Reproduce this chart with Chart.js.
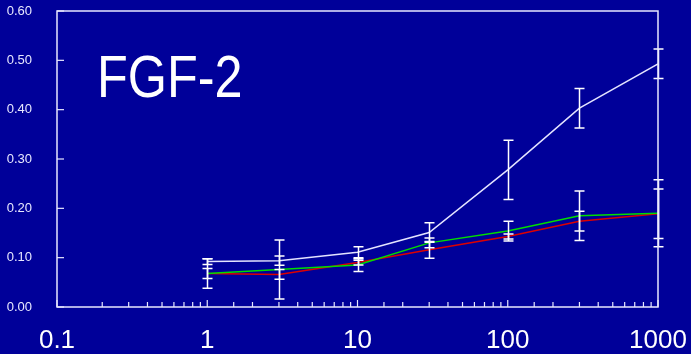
<!DOCTYPE html>
<html>
<head>
<meta charset="utf-8">
<script src="https://cdn.jsdelivr.net/npm/chart.js@4.4.1/dist/chart.umd.min.js"></script>
<style>
html,body{margin:0;padding:0;background:#000099;}
#wrap{width:691px;height:354px;}
</style>
</head>
<body>
<div id="wrap"><canvas id="c" width="691" height="354"></canvas></div>
<script>
const doses = [1, 3, 10, 30, 100, 300, 1000];
const whiteVals = [0.092, 0.094, 0.111, 0.151, 0.278, 0.403, 0.493];
const whiteErr  = [0.006, 0.0095, 0.011, 0.02, 0.06, 0.04, 0.03];
const greenVals = [0.068, 0.076, 0.085, 0.130, 0.154, 0.185, 0.190];
const greenErr  = [0.03, 0.06, 0.013, 0.01, 0.02, 0.05, 0.068];
const redVals   = [0.068, 0.066, 0.090, 0.116, 0.143, 0.174, 0.189];
const redErr    = [0.01, 0.01, 0.005, 0.017, 0.005, 0.02, 0.05];
const yTicks = [0, 0.1, 0.2, 0.3, 0.4, 0.5, 0.6];
const xLabels = [0.1, 1, 10, 100, 1000];
const titleText = 'FGF-2';

const pts = (vals) => doses.map((d, i) => ({x: d, y: vals[i]}));

const frame = {
  id: 'frame',
  beforeDraw(chart) {
    const ctx = chart.ctx;
    ctx.save();
    ctx.fillStyle = '#000099';
    ctx.fillRect(0, 0, chart.width, chart.height);
    ctx.restore();
  },
  afterDatasetsDraw(chart) {
    const ctx = chart.ctx, a = chart.chartArea;
    const xs = chart.scales.x, ys = chart.scales.y;
    ctx.save();
    chart.data.datasets.forEach(ds => {
      ctx.strokeStyle = ds.errColor;
      ctx.lineWidth = 1.5;
      ds.data.forEach((p, i) => {
        const e = ds.err[i];
        const px = Math.round(xs.getPixelForValue(p.x)) + 0.5;
        const t = ys.getPixelForValue(p.y + e), b = ys.getPixelForValue(p.y - e);
        ctx.beginPath();
        ctx.moveTo(px, t); ctx.lineTo(px, b);
        ctx.moveTo(px - 5, t); ctx.lineTo(px + 5, t);
        ctx.moveTo(px - 5, b); ctx.lineTo(px + 5, b);
        ctx.stroke();
      });
    });
    ctx.strokeStyle = '#e8e8ff';
    ctx.lineWidth = 1.5;
    ctx.strokeRect(a.left, a.top, a.right - a.left, a.bottom - a.top);
    ctx.lineWidth = 1.2;
    ys.ticks.forEach(t => {
      const py = ys.getPixelForValue(t.value);
      ctx.beginPath(); ctx.moveTo(a.left, py); ctx.lineTo(a.left + 7, py); ctx.stroke();
    });
    xs.ticks.forEach(t => {
      const v = t.value;
      const lg = Math.log10(v);
      const major = Math.abs(lg - Math.round(lg)) < 1e-9;
      const px = xs.getPixelForValue(v);
      ctx.beginPath(); ctx.moveTo(px, a.bottom); ctx.lineTo(px, a.bottom - (major ? 7 : 5)); ctx.stroke();
    });
    ctx.fillStyle = '#ffffff';
    ctx.font = '60px "Comic Sans MS", "Liberation Sans", sans-serif';
    ctx.textBaseline = 'alphabetic';
    ctx.textAlign = 'left';
    ctx.translate(97, 97);
    ctx.scale(0.84, 1);
    ctx.fillText(titleText, 0, 0);
    ctx.restore();
  }
};

const zeroPad = (s) => { s.paddingTop = 0; s.paddingBottom = 0; s.paddingLeft = 0; s.paddingRight = 0; };

new Chart(document.getElementById('c'), {
  type: 'line',
  data: {
    datasets: [
      {data: pts(whiteVals), err: whiteErr, errColor: '#ffffff', borderColor: '#e4e4ff', borderWidth: 1.5, pointRadius: 0, tension: 0},
      {data: pts(greenVals), err: greenErr, errColor: '#ffffff', borderColor: '#00dd00', borderWidth: 1.5, pointRadius: 0, tension: 0},
      {data: pts(redVals), err: redErr, errColor: '#ffffff', borderColor: '#dd0000', borderWidth: 1.5, pointRadius: 0, tension: 0}
    ]
  },
  options: {
    responsive: false,
    animation: false,
    layout: {padding: {top: 11, right: 33, left: 0, bottom: 0}},
    plugins: {legend: {display: false}, tooltip: {enabled: false}},
    scales: {
      x: {
        type: 'logarithmic',
        min: 0.1, max: 1000,
        grid: {display: false},
        border: {display: false},
        ticks: {
          autoSkip: false, maxRotation: 0, padding: 10,
          color: '#ffffff',
          font: {family: '"Comic Sans MS", "Liberation Sans", sans-serif', size: 26},
          callback: (v) => xLabels.includes(v) ? String(v) : ''
        },
        afterFit: (s) => { s.height = 47; zeroPad(s); }
      },
      y: {
        min: 0, max: 0.6,
        grid: {display: false},
        border: {display: false},
        afterBuildTicks: (s) => { s.ticks = yTicks.map(v => ({value: v})); },
        ticks: {
          padding: 17, color: '#e8e8ff',
          font: {family: '"Liberation Sans", Arial, sans-serif', size: 13},
          callback: (v) => Number(v).toFixed(2)
        },
        afterFit: (s) => { s.width = 57; zeroPad(s); }
      }
    }
  },
  plugins: [frame]
});
</script>
</body>
</html>
